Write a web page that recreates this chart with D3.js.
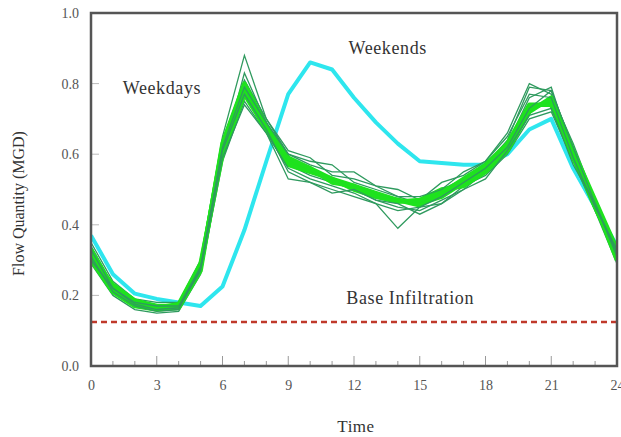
<!DOCTYPE html>
<html>
<head>
<meta charset="utf-8">
<script src="https://cdn.jsdelivr.net/npm/d3@7"></script>
<style>
  body { margin: 0; background: #fff; }
  text { font-family: "Liberation Serif", "DejaVu Serif", serif; }
</style>
</head>
<body>
<svg width="621" height="437"></svg>
<script>
//data
const hours = d3.range(0, 25);
const xTicks = [0, 3, 6, 9, 12, 15, 18, 21, 24];
const yTicks = [0.0, 0.2, 0.4, 0.6, 0.8, 1.0];
const baseInfiltration = 0.125;

const weekend = [0.37,0.26,0.205,0.19,0.18,0.17,0.225,0.385,0.58,0.77,0.86,0.84,0.76,0.69,0.63,0.58,0.575,0.57,0.57,0.60,0.67,0.70,0.56,0.45,0.34];

const weekdayDark = [
  [0.35,0.24,0.19,0.18,0.18,0.30,0.65,0.88,0.70,0.60,0.58,0.57,0.52,0.50,0.48,0.46,0.50,0.53,0.57,0.64,0.79,0.78,0.62,0.45,0.30],
  [0.32,0.22,0.17,0.16,0.16,0.27,0.60,0.83,0.69,0.57,0.54,0.52,0.50,0.47,0.45,0.44,0.47,0.50,0.55,0.63,0.76,0.79,0.60,0.44,0.29],
  [0.29,0.20,0.16,0.15,0.155,0.26,0.58,0.75,0.66,0.53,0.52,0.50,0.48,0.46,0.39,0.45,0.46,0.51,0.54,0.60,0.70,0.72,0.58,0.44,0.31],
  [0.34,0.23,0.18,0.17,0.17,0.29,0.64,0.81,0.70,0.61,0.59,0.54,0.53,0.51,0.50,0.47,0.52,0.54,0.58,0.66,0.80,0.77,0.63,0.47,0.34],
  [0.31,0.21,0.17,0.155,0.16,0.28,0.61,0.77,0.67,0.55,0.52,0.49,0.50,0.47,0.46,0.43,0.46,0.50,0.53,0.61,0.71,0.73,0.57,0.46,0.32],
  [0.30,0.22,0.175,0.16,0.165,0.27,0.59,0.74,0.66,0.56,0.53,0.51,0.49,0.46,0.44,0.45,0.48,0.52,0.56,0.62,0.73,0.78,0.62,0.46,0.31],
  [0.33,0.22,0.18,0.17,0.17,0.28,0.62,0.79,0.69,0.60,0.57,0.55,0.55,0.51,0.48,0.48,0.50,0.55,0.58,0.65,0.77,0.76,0.59,0.45,0.33]
];

const weekdayBright = [
  [0.31,0.23,0.185,0.17,0.17,0.28,0.62,0.79,0.68,0.58,0.56,0.53,0.51,0.49,0.47,0.46,0.48,0.52,0.56,0.62,0.73,0.75,0.60,0.45,0.32],
  [0.33,0.22,0.18,0.165,0.175,0.29,0.60,0.77,0.67,0.57,0.55,0.53,0.50,0.48,0.47,0.455,0.49,0.53,0.57,0.63,0.74,0.74,0.59,0.46,0.30],
  [0.30,0.21,0.17,0.16,0.165,0.27,0.63,0.80,0.68,0.59,0.56,0.52,0.51,0.48,0.465,0.47,0.50,0.51,0.55,0.61,0.72,0.76,0.61,0.47,0.33]
];

//layout
const margin = {top: 13, right: 4, bottom: 71, left: 91};
const width = 621 - margin.left - margin.right;
const height = 437 - margin.top - margin.bottom;

const svg = d3.select("svg")
  .append("g")
  .attr("transform", "translate(" + margin.left + "," + margin.top + ")");

//scales
const xScale = d3.scaleLinear().domain([0, 24]).range([0, width]);
const yScale = d3.scaleLinear().domain([0, 1]).range([height, 0]);

const line = d3.line()
  .x((d, i) => xScale(hours[i]))
  .y(d => yScale(d));

svg.append("clipPath").attr("id", "clip")
  .append("rect").attr("width", width).attr("height", height);

const plot = svg.append("g").attr("clip-path", "url(#clip)");

//base infiltration
plot.append("line")
  .attr("x1", 0).attr("x2", width)
  .attr("y1", yScale(baseInfiltration)).attr("y2", yScale(baseInfiltration))
  .attr("stroke", "#c0392b")
  .attr("stroke-width", 2.5)
  .attr("stroke-dasharray", "6,4");

//weekend
plot.append("path")
  .datum(weekend)
  .attr("d", line)
  .attr("fill", "none")
  .attr("stroke", "#2ee6ee")
  .attr("stroke-width", 4)
  .attr("stroke-linejoin", "round");

//weekdays
plot.selectAll(".dark1")
  .data(weekdayDark.slice(0, 4))
  .enter().append("path")
  .attr("d", line)
  .attr("fill", "none")
  .attr("stroke", "#2f9a5e")
  .attr("stroke-width", 1.3);

plot.selectAll(".bright")
  .data(weekdayBright)
  .enter().append("path")
  .attr("d", line)
  .attr("fill", "none")
  .attr("stroke", "#1ee21e")
  .attr("stroke-width", 4.5)
  .attr("stroke-linejoin", "round");

plot.selectAll(".dark2")
  .data(weekdayDark.slice(4))
  .enter().append("path")
  .attr("d", line)
  .attr("fill", "none")
  .attr("stroke", "#2f9a5e")
  .attr("stroke-width", 1.3);

//axes
const xAxis = d3.axisBottom(xScale).tickValues(xTicks).tickSize(0).tickPadding(14)
  .tickFormat(d3.format("d"));
const gx = svg.append("g")
  .attr("transform", "translate(0," + height + ")")
  .call(xAxis);
gx.select(".domain").remove();
gx.selectAll("text").style("font-size", "14px").attr("fill", "#555");

const yAxis = d3.axisLeft(yScale).tickValues(yTicks).tickSize(0).tickPadding(12)
  .tickFormat(d3.format(".1f"));
const gy = svg.append("g").call(yAxis);
gy.select(".domain").remove();
gy.selectAll("text").style("font-size", "14px").attr("fill", "#555");

//inward ticks
svg.selectAll(".xminor")
  .data(d3.range(0, 25))
  .enter().append("line")
  .attr("x1", d => xScale(d)).attr("x2", d => xScale(d))
  .attr("y1", height).attr("y2", d => height - (d % 3 === 0 ? 10 : 5))
  .attr("stroke", "#999").attr("stroke-width", 1);

svg.selectAll(".ytick")
  .data(yTicks)
  .enter().append("line")
  .attr("x1", 0).attr("x2", 8)
  .attr("y1", d => yScale(d)).attr("y2", d => yScale(d))
  .attr("stroke", "#bbb").attr("stroke-width", 1);

//frame
svg.append("rect")
  .attr("width", width).attr("height", height)
  .attr("fill", "none")
  .attr("stroke", "#555")
  .attr("stroke-width", 2.5);

//labels
svg.append("text")
  .attr("x", xScale(12) + 2).attr("y", height + 66)
  .style("text-anchor", "middle")
  .style("font-size", "17px")
  .style("letter-spacing", "0.5px")
  .attr("fill", "#333")
  .text("Time");

svg.append("text")
  .attr("transform", "rotate(-90)")
  .attr("x", -(yScale(0.5) + 14)).attr("y", -67)
  .style("text-anchor", "middle")
  .style("font-size", "16px")
  .attr("fill", "#333")
  .text("Flow Quantity (MGD)");

//annotations
const notes = [
  {t: "Weekdays", h: 1.45, v: 0.77},
  {t: "Weekends", h: 11.75, v: 0.885},
  {t: "Base Infiltration", h: 11.65, v: 0.175}
];
svg.selectAll(".note")
  .data(notes)
  .enter().append("text")
  .attr("x", d => xScale(d.h)).attr("y", d => yScale(d.v))
  .style("font-size", "18px")
  .style("letter-spacing", "0.6px")
  .attr("fill", "#333")
  .text(d => d.t);
</script>
</body>
</html>
